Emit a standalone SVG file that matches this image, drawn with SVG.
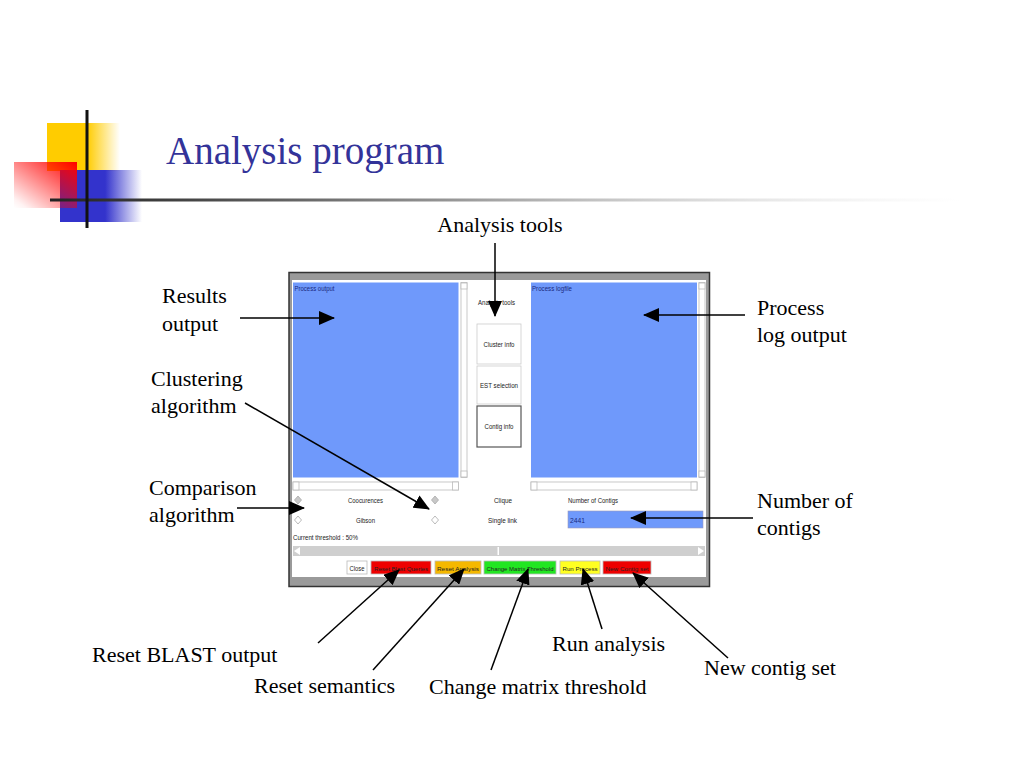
<svg xmlns="http://www.w3.org/2000/svg" width="1024" height="768" viewBox="0 0 1024 768">
<defs>
<linearGradient id="gYel" x1="0" y1="0" x2="1" y2="0">
<stop offset="0" stop-color="#ffcc00"/><stop offset="0.55" stop-color="#ffcc00"/><stop offset="1" stop-color="#ffcc00" stop-opacity="0"/>
</linearGradient>
<linearGradient id="gBlue" x1="0" y1="0" x2="1" y2="0">
<stop offset="0" stop-color="#3333cc"/><stop offset="0.55" stop-color="#3333cc"/><stop offset="1" stop-color="#3333cc" stop-opacity="0"/>
</linearGradient>
<linearGradient id="gRed" x1="1" y1="0" x2="0" y2="1">
<stop offset="0" stop-color="#ff0000"/><stop offset="0.9" stop-color="#ff0000" stop-opacity="0.05"/><stop offset="1" stop-color="#ff0000" stop-opacity="0"/>
</linearGradient>
<linearGradient id="gLine" x1="0" y1="0" x2="1" y2="0">
<stop offset="0" stop-color="#222"/><stop offset="0.15" stop-color="#444"/><stop offset="0.45" stop-color="#999"/><stop offset="1" stop-color="#ddd" stop-opacity="0"/>
</linearGradient>
<marker id="ah" markerUnits="userSpaceOnUse" markerWidth="16" markerHeight="14" refX="15" refY="7" orient="auto">
<path d="M0,0 L16,7 L0,14 Z" fill="#000"/>
</marker>
<style>
.lbl{font-family:"Liberation Sans Narrow","Liberation Serif","Times New Roman",serif;font-size:22px;fill:#000}
.lbl{font-family:"Liberation Serif","Times New Roman",serif}
.ui{font-family:"Liberation Sans",Arial,sans-serif;font-size:7px;fill:#222}
.uib{font-family:"Liberation Sans",Arial,sans-serif;font-size:7px;fill:#1a2a80}
.sm{font-size:6px}
.panel{fill:#6f99fb}
.sb{fill:#fff;stroke:#bbb;stroke-width:0.8}
.btn{stroke:#bbb;stroke-width:0.8}
.conn{stroke:#000;stroke-width:1.5;fill:none}
.rad{stroke:#aaa;stroke-width:0.8}
</style>
</defs>
<rect width="1024" height="768" fill="#fff"/>

<g id="logo">
<rect x="47" y="123" width="73" height="48" fill="url(#gYel)"/>
<rect x="60" y="170" width="82" height="52" fill="url(#gBlue)"/>
<rect x="14" y="162" width="63" height="46" fill="url(#gRed)"/>
<rect x="50" y="198.5" width="910" height="3" fill="url(#gLine)"/>
<rect x="85.5" y="110" width="3" height="118" fill="#111"/>
</g>

<g id="title">
<text x="166" y="164" font-family="'Liberation Serif','Times New Roman',serif" font-size="39" fill="#333399">Analysis program</text>
</g>

<g id="window">
<rect x="289" y="272.5" width="420.5" height="314" fill="#9a9a9a" stroke="#333" stroke-width="1.5"/>
<rect x="292" y="280" width="414" height="297" fill="#fff"/>
<rect class="panel" x="293" y="282.5" width="165.5" height="195"/>
<text class="uib" x="294.5" y="291" textLength="40" lengthAdjust="spacingAndGlyphs">Process output</text>
<rect class="sb" x="461" y="282.5" width="6" height="195"/>
<rect class="sb" x="461" y="283" width="6" height="6"/>
<rect class="sb" x="461" y="471" width="6" height="6"/>
<rect class="sb" x="293" y="482" width="165.5" height="8"/>
<rect class="sb" x="293" y="482" width="6" height="8"/>
<rect class="sb" x="452.5" y="482" width="6" height="8"/>
<rect class="panel" x="531" y="282.5" width="166" height="195"/>
<text class="uib" x="532" y="291" textLength="40" lengthAdjust="spacingAndGlyphs">Process logfile</text>
<rect class="sb" x="699" y="282.5" width="6" height="195"/>
<rect class="sb" x="699" y="283" width="6" height="6"/>
<rect class="sb" x="699" y="471" width="6" height="6"/>
<rect class="sb" x="531" y="482" width="166" height="8"/>
<rect class="sb" x="531" y="482" width="6" height="8"/>
<rect class="sb" x="691" y="482" width="6" height="8"/>
<text class="ui" x="496.5" y="305" text-anchor="middle" textLength="37" lengthAdjust="spacingAndGlyphs">Analysis tools</text>
<rect x="477" y="324" width="44" height="40" fill="#fff" stroke="#ccc" stroke-width="0.8"/>
<text class="ui" x="499" y="347" text-anchor="middle" textLength="31" lengthAdjust="spacingAndGlyphs">Cluster info</text>
<rect x="477" y="366" width="44" height="38" fill="#fff" stroke="#ccc" stroke-width="0.8"/>
<text class="ui" x="499" y="388" text-anchor="middle" textLength="38" lengthAdjust="spacingAndGlyphs">EST selection</text>
<rect x="477" y="406" width="44" height="41" fill="#fff" stroke="#555" stroke-width="1.2"/>
<text class="ui" x="499" y="429" text-anchor="middle" textLength="29" lengthAdjust="spacingAndGlyphs">Contig info</text>
<path class="rad" d="M298,496 L301.5,500 L298,504 L294.5,500 Z" fill="#c8c8c8"/>
<path class="rad" d="M435,496 L438.5,500 L435,504 L431.5,500 Z" fill="#c8c8c8"/>
<path class="rad" d="M298,516 L301.5,520 L298,524 L294.5,520 Z" fill="#fff"/>
<path class="rad" d="M435,516 L438.5,520 L435,524 L431.5,520 Z" fill="#fff"/>
<text class="ui" x="365.5" y="503" text-anchor="middle" textLength="35" lengthAdjust="spacingAndGlyphs">Coocurences</text>
<text class="ui" x="503" y="503" text-anchor="middle" textLength="18" lengthAdjust="spacingAndGlyphs">Clique</text>
<text class="ui" x="568" y="503" textLength="50" lengthAdjust="spacingAndGlyphs">Number of Contigs</text>
<text class="ui" x="365.5" y="523" text-anchor="middle" textLength="19" lengthAdjust="spacingAndGlyphs">Gibson</text>
<text class="ui" x="502.5" y="523" text-anchor="middle" textLength="29" lengthAdjust="spacingAndGlyphs">Single link</text>
<rect x="568" y="511" width="135" height="17" fill="#6f99fb" stroke="#99b" stroke-width="0.6"/>
<text class="uib" x="570" y="523" textLength="15" lengthAdjust="spacingAndGlyphs">2441</text>
<text class="ui" x="293" y="540" textLength="65" lengthAdjust="spacingAndGlyphs">Current threshold : 50%</text>
<rect x="293" y="546" width="412" height="10" fill="#cfcfcf"/>
<path d="M294,551 L300,547 L300,555 Z" fill="#fff"/>
<path d="M704,551 L698,547 L698,555 Z" fill="#fff"/>
<rect x="497.5" y="547" width="1.5" height="8" fill="#fff"/>
<rect class="btn" x="347" y="561" width="20" height="13" fill="#fff"/>
<text class="ui" x="357" y="570.5" text-anchor="middle" textLength="15" lengthAdjust="spacingAndGlyphs">Close</text>
<rect class="btn" x="371" y="561" width="60" height="13" fill="#ee0000"/>
<text class="ui sm" x="401" y="570.5" text-anchor="middle" textLength="54" lengthAdjust="spacingAndGlyphs" fill="#700">Reset Blast Queries</text>
<rect class="btn" x="435" y="561" width="46" height="13" fill="#f5b800"/>
<text class="ui sm" x="458" y="570.5" text-anchor="middle" textLength="42" lengthAdjust="spacingAndGlyphs">Reset Analysis</text>
<rect class="btn" x="484" y="561" width="72" height="13" fill="#22e622"/>
<text class="ui sm" x="520" y="570.5" text-anchor="middle" textLength="67" lengthAdjust="spacingAndGlyphs">Change Matrix Threshold</text>
<rect class="btn" x="560" y="561" width="40" height="13" fill="#ffff22"/>
<text class="ui sm" x="580" y="570.5" text-anchor="middle" textLength="35" lengthAdjust="spacingAndGlyphs">Run Process</text>
<rect class="btn" x="603" y="561" width="48" height="13" fill="#ee0000"/>
<text class="ui sm" x="627" y="570.5" text-anchor="middle" textLength="43" lengthAdjust="spacingAndGlyphs" fill="#700">New Contig set</text>
</g>

<g id="labels">
<text class="lbl" x="500" y="232" text-anchor="middle">Analysis tools</text>
<text class="lbl" x="162" y="303">Results</text>
<text class="lbl" x="162" y="331">output</text>
<text class="lbl" x="757" y="315">Process</text>
<text class="lbl" x="757" y="342">log output</text>
<text class="lbl" x="151" y="386">Clustering</text>
<text class="lbl" x="151" y="413">algorithm</text>
<text class="lbl" x="149" y="495">Comparison</text>
<text class="lbl" x="149" y="522">algorithm</text>
<text class="lbl" x="757" y="508">Number of</text>
<text class="lbl" x="757" y="535">contigs</text>
<text class="lbl" x="92" y="662">Reset BLAST output</text>
<text class="lbl" x="254" y="693">Reset semantics</text>
<text class="lbl" x="429" y="694">Change matrix threshold</text>
<text class="lbl" x="552" y="651">Run analysis</text>
<text class="lbl" x="704" y="675">New contig set</text>
</g>

<g id="connectors">
<line class="conn" x1="495" y1="243" x2="495" y2="316" marker-end="url(#ah)"/>
<line class="conn" x1="240" y1="318" x2="334" y2="318" marker-end="url(#ah)"/>
<line class="conn" x1="745" y1="315" x2="644" y2="315" marker-end="url(#ah)"/>
<line class="conn" x1="245" y1="403" x2="429" y2="509" marker-end="url(#ah)"/>
<line class="conn" x1="237" y1="508" x2="304" y2="508" marker-end="url(#ah)"/>
<line class="conn" x1="753" y1="518" x2="631" y2="518" marker-end="url(#ah)"/>
<line class="conn" x1="318" y1="643" x2="399" y2="570" marker-end="url(#ah)"/>
<line class="conn" x1="373" y1="670" x2="464" y2="569" marker-end="url(#ah)"/>
<line class="conn" x1="491" y1="670" x2="528" y2="569" marker-end="url(#ah)"/>
<line class="conn" x1="602" y1="629" x2="583" y2="569" marker-end="url(#ah)"/>
<line class="conn" x1="728" y1="658" x2="633" y2="573" marker-end="url(#ah)"/>
</g>
</svg>
